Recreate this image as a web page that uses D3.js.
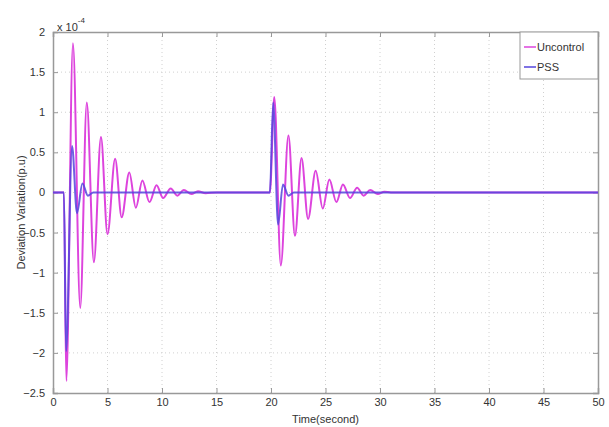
<!DOCTYPE html>
<html>
<head>
<meta charset="utf-8">
<script src="https://cdn.jsdelivr.net/npm/d3@7"></script>
<style>
  body { margin: 0; background: #fff; }
  text { font-family: "Liberation Sans", Arial, sans-serif; fill: #333; }
</style>
</head>
<body>
<div class="vis-container"></div>
<script>
// values (x 10^-4), extrema of each swing
const uncontrolTime = [0, 1.0, 1.22, 1.83, 2.5, 3.1, 3.75, 4.4, 5.0, 5.7, 6.3, 7.0, 7.6, 8.2, 8.85, 9.5, 10.1, 10.8, 11.4, 12.0, 12.7, 13.3, 14.0, 15,
  19.9, 20.3, 20.9, 21.6, 22.2, 22.8, 23.4, 24.1, 24.75, 25.35, 26.0, 26.6, 27.25, 27.9, 28.5, 29.1, 29.8, 30.4, 31, 32, 50];
const uncontrolValue = [0, 0, -2.35, 1.86, -1.44, 1.12, -0.87, 0.69, -0.52, 0.42, -0.31, 0.25, -0.19, 0.15, -0.12, 0.09, -0.07, 0.05, -0.04, 0.03, -0.02, 0.015, -0.01, 0,
  0, 1.19, -0.91, 0.71, -0.54, 0.43, -0.33, 0.27, -0.2, 0.16, -0.12, 0.1, -0.07, 0.06, -0.04, 0.03, -0.02, 0.01, 0, 0, 0];
const pssTime = [0, 1.0, 1.2, 1.75, 2.2, 2.7, 3.2, 3.7, 19.9, 20.2, 20.65, 21.1, 21.6, 22.1, 50];
const pssValue = [0, 0, -1.98, 0.58, -0.26, 0.11, -0.04, 0, 0, 1.12, -0.4, 0.1, -0.04, 0, 0];
const xTicks = [0, 5, 10, 15, 20, 25, 30, 35, 40, 45, 50];
const yTicks = [2, 1.5, 1, 0.5, 0, -0.5, -1, -1.5, -2, -2.5];
const seriesNames = ['Uncontrol', 'PSS'];
const seriesColors = ['#dd44dd', '#5544dd'];

document.addEventListener('DOMContentLoaded', () => {
  buildChart();
});

function buildChart() {
  const width = 609;
  const height = 427;
  const margin = {left: 53, right: 11, top: 32, bottom: 34};
  const svg = d3.select('.vis-container').append('svg')
    .attr('width', width)
    .attr('height', height);

  const x = d3.scaleLinear().domain([0, 50]).range([margin.left, width - margin.right]);
  const y = d3.scaleLinear().domain([-2.5, 2]).range([height - margin.bottom, margin.top]);

  // dotted grid
  svg.selectAll('.vgrid').data(xTicks.slice(1, -1))
    .enter().append('line')
      .attr('class', 'vgrid')
      .attr('x1', d => x(d)).attr('x2', d => x(d))
      .attr('y1', y(2)).attr('y2', y(-2.5))
      .attr('stroke', '#d0d0d0')
      .attr('stroke-dasharray', '1,3');
  svg.selectAll('.hgrid').data(yTicks.slice(1, -1))
    .enter().append('line')
      .attr('class', 'hgrid')
      .attr('x1', x(0)).attr('x2', x(50))
      .attr('y1', d => y(d)).attr('y2', d => y(d))
      .attr('stroke', '#d0d0d0')
      .attr('stroke-dasharray', '1,3');

  // axes with inward ticks, box style
  const xAxis = svg.append('g')
    .attr('transform', `translate(0, ${y(-2.5)})`)
    .call(d3.axisBottom(x).tickValues(xTicks).tickSize(-5).tickPadding(5));
  const xTop = svg.append('g')
    .attr('transform', `translate(0, ${y(2)})`)
    .call(d3.axisTop(x).tickValues(xTicks).tickSize(-5).tickFormat(''));
  const yAxis = svg.append('g')
    .attr('transform', `translate(${x(0)}, 0)`)
    .call(d3.axisLeft(y).tickValues(yTicks).tickSize(-5).tickPadding(8).tickFormat(d3.format('')));
  const yRight = svg.append('g')
    .attr('transform', `translate(${x(50)}, 0)`)
    .call(d3.axisRight(y).tickValues(yTicks).tickSize(-5).tickFormat(''));
  [xAxis, xTop, yAxis, yRight].forEach(g => {
    g.select('.domain').attr('stroke', '#999').attr('stroke-width', 1.5);
    g.selectAll('.tick line').attr('stroke', '#999');
    g.selectAll('.tick text').attr('font-size', 11).attr('fill', '#333')
      .attr('font-family', '"Liberation Sans", Arial, sans-serif');
  });

  // series lines
  const line = d3.line()
    .x(d => x(d[0]))
    .y(d => y(d[1]))
    .curve(d3.curveMonotoneX);
  const uncontrol = uncontrolTime.map((t, i) => [t, uncontrolValue[i]]);
  const pss = pssTime.map((t, i) => [t, pssValue[i]]);
  svg.append('path')
    .attr('d', line(uncontrol))
    .attr('fill', 'none')
    .attr('stroke', seriesColors[0])
    .attr('stroke-width', 2);
  svg.append('path')
    .attr('d', line(pss))
    .attr('fill', 'none')
    .attr('stroke', seriesColors[1])
    .attr('stroke-width', 2)
    .attr('stroke-opacity', 0.85);

  // exponent label
  const expo = svg.append('text')
    .attr('x', 57)
    .attr('y', 31)
    .attr('font-size', 11);
  expo.append('tspan').text('x 10');
  expo.append('tspan').attr('dy', -8).attr('font-size', 8).text('-4');

  // axis titles
  svg.append('text')
    .attr('x', (x(0) + x(50)) / 2)
    .attr('y', 423)
    .attr('text-anchor', 'middle')
    .attr('font-size', 11)
    .text('Time(second)');
  svg.append('text')
    .attr('transform', `translate(25, ${(y(2) + y(-2.5)) / 2}) rotate(-90)`)
    .attr('text-anchor', 'middle')
    .attr('font-size', 11)
    .text('Deviation Variation(p.u)');

  // legend
  const legend = svg.append('g').attr('transform', `translate(520, ${y(2)})`);
  legend.append('rect')
    .attr('width', x(50) - 520)
    .attr('height', 47)
    .attr('fill', '#fff')
    .attr('stroke', '#999');
  seriesNames.forEach((name, i) => {
    legend.append('line')
      .attr('x1', 4).attr('x2', 16)
      .attr('y1', 15 + i * 20).attr('y2', 15 + i * 20)
      .attr('stroke', seriesColors[i])
      .attr('stroke-width', 1.5);
    legend.append('text')
      .attr('x', 17)
      .attr('y', 19 + i * 20)
      .attr('font-size', 11)
      .text(name);
  });
}
</script>
</body>
</html>
